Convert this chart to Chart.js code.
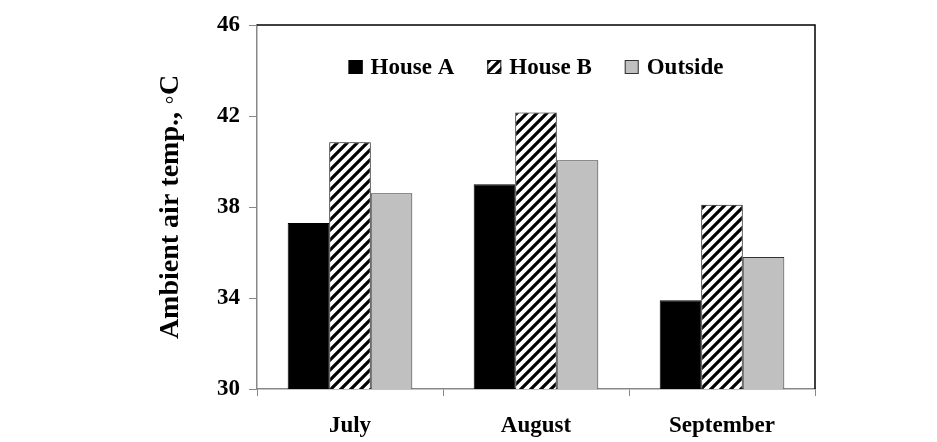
<!DOCTYPE html>
<html>
<head>
<meta charset="utf-8">
<script src="https://cdn.jsdelivr.net/npm/chart.js@4.4.1/dist/chart.umd.min.js"></script>
<style>
  html, body { margin: 0; padding: 0; background: #fff; }
  #wrap { width: 937px; height: 442px; position: relative; }
</style>
</head>
<body>
<div id="wrap"><canvas id="myChart"></canvas></div>
<script>
const months = ['July', 'August', 'September'];
const houseA = [37.3, 39.0, 33.9];
const houseB = [40.85, 42.15, 38.1];
const outside = [38.6, 40.05, 35.8];
const yTicks = [30, 34, 38, 42, 46];

const FONT = "'Liberation Serif', 'Times New Roman', serif";

// diagonal hatch for House B
const makeHatch = () => {
    const c = document.createElement('canvas');
    c.width = 10;
    c.height = 10;
    const g = c.getContext('2d');
    g.fillStyle = '#fff';
    g.fillRect(0, 0, 10, 10);
    g.strokeStyle = '#000';
    g.lineWidth = 3.2;
    g.beginPath();
    g.moveTo(-2, 12); g.lineTo(12, -2);
    g.moveTo(-7, 7); g.lineTo(7, -7);
    g.moveTo(3, 17); g.lineTo(17, 3);
    g.stroke();
    return g.createPattern(c, 'repeat');
};

// black top & right frame lines
const framePlugin = {
    id: 'frame',
    afterDatasetsDraw(chart) {
        const { ctx, chartArea: a } = chart;
        ctx.save();
        ctx.strokeStyle = '#000';
        ctx.lineWidth = 1.5;
        ctx.beginPath();
        ctx.moveTo(a.left, a.top);
        ctx.lineTo(a.right, a.top);
        ctx.lineTo(a.right, a.bottom);
        ctx.stroke();
        ctx.restore();
    }
};

// legend drawn in one row inside the plot area
const innerLegend = {
    id: 'innerLegend',
    afterDraw(chart) {
        const { ctx, chartArea: a } = chart;
        const box = 14, gapText = 8, gapItem = 33;
        ctx.save();
        ctx.font = 'bold 23px ' + FONT;
        ctx.textBaseline = 'middle';
        const sets = chart.data.datasets;
        const widths = sets.map(d => ctx.measureText(d.label).width);
        let total = 0;
        widths.forEach((w, i) => { total += box + gapText + w + (i ? gapItem : 0); });
        let x = (a.left + a.right) / 2 - total / 2;
        const cy = a.top + 42;
        sets.forEach((d, i) => {
            ctx.fillStyle = d.backgroundColor;
            ctx.fillRect(x, cy - box / 2, box, box);
            ctx.strokeStyle = d.borderColor;
            ctx.lineWidth = 1;
            ctx.strokeRect(x + 0.5, cy - box / 2 + 0.5, box - 1, box - 1);
            ctx.fillStyle = '#000';
            ctx.fillText(d.label, x + box + gapText, cy + 1);
            x += box + gapText + widths[i] + gapItem;
        });
        ctx.restore();
    }
};

const ctx = document.getElementById('myChart');
new Chart(ctx, {
    type: 'bar',
    data: {
        labels: months,
        datasets: [
            {
                label: 'House A',
                data: houseA,
                backgroundColor: '#000',
                borderColor: '#000',
                borderWidth: 1,
            },
            {
                label: 'House B',
                data: houseB,
                backgroundColor: makeHatch(),
                borderColor: '#111',
                borderWidth: 1,
            },
            {
                label: 'Outside',
                data: outside,
                backgroundColor: '#c0c0c0',
                borderColor: '#333',
                borderWidth: 1,
            }
        ]
    },
    options: {
        responsive: true,
        maintainAspectRatio: false,
        animation: false,
        datasets: {
            bar: { categoryPercentage: 0.67, barPercentage: 1.0 }
        },
        layout: {
            padding: { left: 140, right: 122, top: 25, bottom: 0 }
        },
        scales: {
            x: {
                afterFit(scale) { scale.height = 53; },
                grid: {
                    offset: true,
                    drawOnChartArea: false,
                    tickLength: 7,
                    color: '#888',
                },
                border: { color: '#888', width: 1.5 },
                ticks: {
                    color: '#000',
                    padding: 16,
                    font: { family: FONT, size: 23, weight: 'bold' }
                }
            },
            y: {
                min: 30,
                max: 46,
                afterFit(scale) { scale.width = 117; },
                afterBuildTicks(scale) { scale.ticks = yTicks.map(v => ({ value: v })); },
                grid: {
                    drawOnChartArea: false,
                    tickLength: 8,
                    color: '#888',
                },
                border: { color: '#888', width: 1.5 },
                ticks: {
                    color: '#000',
                    padding: 9,
                    font: { family: FONT, size: 23, weight: 'bold' }
                },
                title: {
                    display: true,
                    text: 'Ambient air temp., \u25E6C',
                    color: '#000',
                    padding: { top: 14, bottom: 0 },
                    font: { family: FONT, size: 28, weight: 'bold' }
                }
            }
        },
        plugins: {
            legend: { display: false },
            tooltip: { enabled: false }
        }
    },
    plugins: [framePlugin, innerLegend]
});
</script>
</body>
</html>
